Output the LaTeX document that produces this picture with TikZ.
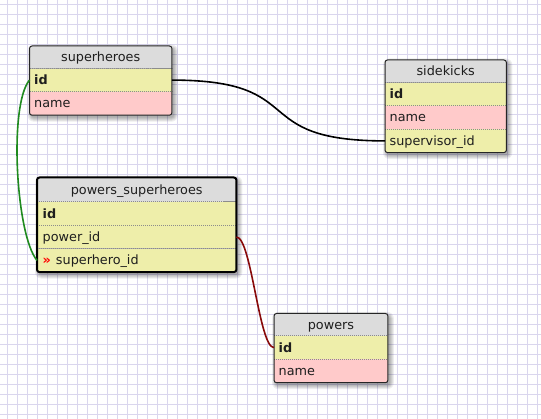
\documentclass[tikz,border=0pt]{standalone}
\usepackage{fontspec}
\setmainfont{DejaVu Sans}
\usepackage{xcolor}
\usepackage{tikz}
\usetikzlibrary{positioning,fit,backgrounds}
\definecolor{hdGray}{HTML}{DCDCDC}
\definecolor{rowYellow}{HTML}{EEEEAA}
\definecolor{rowPink}{HTML}{FFCACA}
\definecolor{gridLine}{HTML}{DAD6EE}
\definecolor{txtDark}{HTML}{1E1E1E}
\definecolor{fkGreen}{HTML}{1F8A1F}
\definecolor{fkRed}{HTML}{880A0A}
\newcommand{\tblfont}{\fontsize{12.8}{14}\selectfont}
\pgfdeclarelayer{gridlayer}
\pgfsetlayers{gridlayer,background,main}
\tikzset{
  tblcell/.style={
    rectangle,
    anchor=north west,
    inner xsep=4.5pt,
    inner ysep=0pt,
    minimum height=23pt,
    text width=#1,
    text height=11pt,
    text depth=2pt,
    align=left,
    font=\tblfont,
    text=txtDark
  },
  tblhead/.style={tblcell=#1, fill=hdGray, align=center, minimum height=22pt},
  keyrow/.style={tblcell=#1, fill=rowYellow, font={\tblfont\bfseries}},
  yrow/.style={tblcell=#1, fill=rowYellow},
  prow/.style={tblcell=#1, fill=rowPink},
  tblframe/.style={rectangle, inner sep=0pt, rounded corners=2.5pt, draw=black!85, line width=1pt},
  tblshadow/.style={rectangle, inner sep=#1, rounded corners=2.5pt+#1, fill=black,
    fill opacity=0.07, xshift=2pt, yshift=-2.5pt},
  rowsep/.style={draw=black!45, line width=0.8pt, dash pattern=on 1pt off 1pt},
  hdsep/.style={draw=black!45, line width=0.8pt},
  fklink/.style={line width=1.6pt}
}
\begin{document}
\begin{tikzpicture}[x=1pt,y=-1pt]
  \useasboundingbox (0,0) rectangle (541,419);
  % grid paper
  \begin{pgfonlayer}{gridlayer}
    \fill[white] (0,0) rectangle (541,419);
    \foreach \gx in {7,17,...,537} \draw[gridLine, line width=1pt] (\gx,0) -- (\gx,419);
    \foreach \gy in {5,15,...,415} \draw[gridLine, line width=1pt] (0,\gy) -- (541,\gy);
  \end{pgfonlayer}

  % superheroes
  \node[tblhead=133pt] (shHead) at (29.5,46) {superheroes};
  \node[keyrow=133pt, below=0pt of shHead] (shId) {id};
  \node[prow=133pt, below=0pt of shId] (shName) {name};

  % sidekicks
  \node[tblhead=112pt] (skHead) at (385,60) {sidekicks};
  \node[keyrow=112pt, below=0pt of skHead] (skId) {id};
  \node[prow=112pt, below=0pt of skId] (skName) {name};
  \node[yrow=112pt, below=0pt of skName] (skSup) {supervisor\_id};

  % powers_superheroes
  \node[tblhead=188pt, minimum height=24pt, inner xsep=5.5pt] (psHead) at (37,177.5) {powers\_superheroes};
  \node[keyrow=188pt, inner xsep=5.5pt, below=0pt of psHead] (psId) {id};
  \node[yrow=188pt, inner xsep=5.5pt, below=0pt of psId] (psPower) {power\_id};
  \node[yrow=188pt, inner xsep=5.5pt, below=0pt of psPower] (psHero) {{\color{red}\bfseries »}\hspace{5pt}superhero\_id};

  % powers
  \node[tblhead=104.5pt] (pwHead) at (274,313.5) {powers};
  \node[keyrow=104.5pt, below=0pt of pwHead] (pwId) {id};
  \node[prow=104.5pt, below=0pt of pwId] (pwName) {name};

  % row separators
  \foreach \r in {shHead,shId,skHead,skId,skName,psHead,psId,psPower,pwHead,pwId}
    \draw[rowsep] (\r.south west) -- (\r.south east);
  \draw[hdsep] (shHead.south east) -- +(-19,0);
  \draw[hdsep] (psHead.south east) -- +(-13,0);

  % soft shadows
  \begin{scope}[on background layer]
    \foreach \s in {0pt,1pt,2pt,3pt,4pt} {
      \node[tblshadow=\s, fit=(shHead)(shName)] {};
      \node[tblshadow=\s, fit=(skHead)(skSup)] {};
      \node[tblshadow=\s, fit=(psHead)(psHero)] {};
      \node[tblshadow=\s, fit=(pwHead)(pwName)] {};
    }
  \end{scope}
  \node[tblframe, fit=(shHead)(shName)] (superheroes) {};
  \node[tblframe, fit=(skHead)(skSup)] (sidekicks) {};
  \node[tblframe, draw=black, line width=2pt, fit=(psHead)(psHero)] (powersSuperheroes) {};
  \node[tblframe, fit=(pwHead)(pwName)] (powers) {};

  % links
  \draw[fklink, black] (shId.east) .. controls +(140,0) and +(-140,0) .. (skSup.west);
  \draw[fklink, fkGreen] (shId.west) .. controls +(-21,25) and +(-21,-25) .. (psHero.west);
  \draw[fklink, fkRed] (psPower.east) .. controls +(15,0) and +(-15,0) .. (pwId.west);
\end{tikzpicture}
\end{document}
